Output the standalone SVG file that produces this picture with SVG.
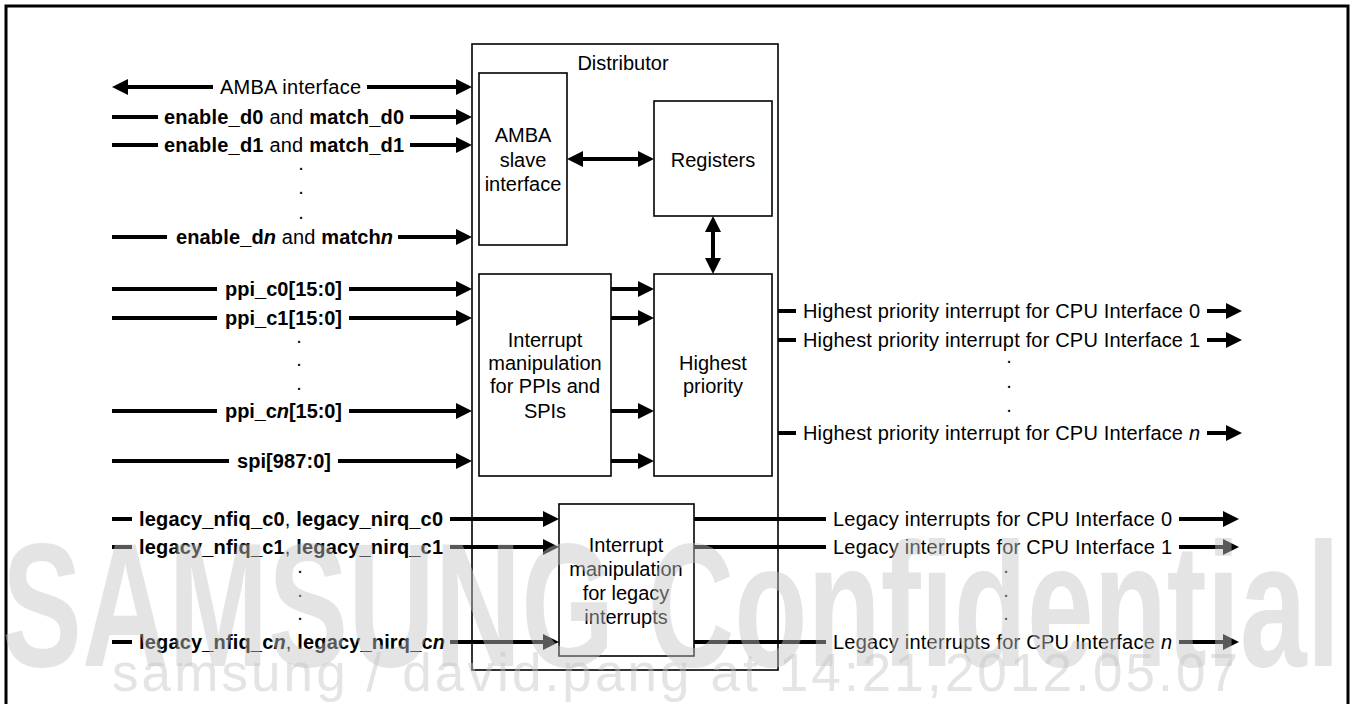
<svg xmlns="http://www.w3.org/2000/svg" width="1353" height="704" viewBox="0 0 1353 704">
<style>
.t{font-family:"Liberation Sans",Arial,sans-serif;font-size:20px;fill:#000}
.m{text-anchor:middle}
.b{font-weight:bold}
.i{font-style:italic}
.box{fill:#fff;stroke:#000;stroke-width:1.6}
.w{stroke:#000;stroke-width:4;fill:none}
.wm{font-family:"Liberation Sans",Arial,sans-serif;fill:#c4c4c4;opacity:0.45}
</style>
<defs>
<marker id="ah" viewBox="0 0 16 16" markerWidth="16" markerHeight="16" refX="6" refY="8" orient="auto-start-reverse" markerUnits="userSpaceOnUse"><path d="M0,0 L16,8 L0,16 Z" fill="#000"/></marker>
</defs>
<rect x="0" y="0" width="1353" height="704" fill="#fff"/>
<rect x="6" y="6" width="1342" height="720" fill="none" stroke="#000" stroke-width="3"/>

<g id="distributor">
<rect class="box" x="472" y="44" width="306" height="626"/>
<text class="t m" x="623" y="70">Distributor</text>
</g>
<g id="amba_slave">
<rect class="box" x="479" y="73" width="88" height="172"/>
<text class="t m" x="523" y="142">AMBA</text>
<text class="t m" x="523" y="167">slave</text>
<text class="t m" x="523" y="191">interface</text>
</g>
<g id="registers">
<rect class="box" x="654" y="101" width="118" height="115"/>
<text class="t m" x="713" y="167">Registers</text>
</g>
<g id="ppi_spi">
<rect class="box" x="479" y="274" width="132" height="202"/>
<text class="t m" x="545" y="347">Interrupt</text>
<text class="t m" x="545" y="370">manipulation</text>
<text class="t m" x="545" y="393">for PPIs and</text>
<text class="t m" x="545" y="418">SPIs</text>
</g>
<g id="highest">
<rect class="box" x="654" y="274" width="118" height="202"/>
<text class="t m" x="713" y="370">Highest</text>
<text class="t m" x="713" y="393">priority</text>
</g>
<g id="legacy">
<rect class="box" x="559" y="504" width="135" height="152"/>
<text class="t m" x="626" y="552">Interrupt</text>
<text class="t m" x="626" y="576">manipulation</text>
<text class="t m" x="626" y="600">for legacy</text>
<text class="t m" x="626" y="624">interrupts</text>
</g>

<g id="connectors">
<line class="w" x1="122" y1="87" x2="213" y2="87" marker-start="url(#ah)"/>
<line class="w" x1="367" y1="87" x2="462" y2="87" marker-end="url(#ah)"/>
<line class="w" x1="112" y1="117" x2="158" y2="117"/>
<line class="w" x1="410" y1="117" x2="462" y2="117" marker-end="url(#ah)"/>
<line class="w" x1="112" y1="145" x2="158" y2="145"/>
<line class="w" x1="410" y1="145" x2="462" y2="145" marker-end="url(#ah)"/>
<line class="w" x1="112" y1="237" x2="167" y2="237"/>
<line class="w" x1="398" y1="237" x2="462" y2="237" marker-end="url(#ah)"/>
<line class="w" x1="112" y1="289" x2="217" y2="289"/>
<line class="w" x1="349" y1="289" x2="462" y2="289" marker-end="url(#ah)"/>
<line class="w" x1="112" y1="318" x2="217" y2="318"/>
<line class="w" x1="349" y1="318" x2="462" y2="318" marker-end="url(#ah)"/>
<line class="w" x1="112" y1="411" x2="217" y2="411"/>
<line class="w" x1="349" y1="411" x2="462" y2="411" marker-end="url(#ah)"/>
<line class="w" x1="112" y1="461" x2="229" y2="461"/>
<line class="w" x1="338" y1="461" x2="462" y2="461" marker-end="url(#ah)"/>
<line class="w" x1="112" y1="519" x2="132" y2="519"/>
<line class="w" x1="450" y1="519" x2="549" y2="519" marker-end="url(#ah)"/>
<line class="w" x1="112" y1="547" x2="132" y2="547"/>
<line class="w" x1="450" y1="547" x2="549" y2="547" marker-end="url(#ah)"/>
<line class="w" x1="112" y1="642" x2="132" y2="642"/>
<line class="w" x1="450" y1="642" x2="549" y2="642" marker-end="url(#ah)"/>
<line class="w" x1="577" y1="159" x2="644" y2="159" marker-start="url(#ah)" marker-end="url(#ah)"/>
<line class="w" x1="713" y1="226" x2="713" y2="264" marker-start="url(#ah)" marker-end="url(#ah)"/>
<line class="w" x1="611" y1="289" x2="644" y2="289" marker-end="url(#ah)"/>
<line class="w" x1="611" y1="318" x2="644" y2="318" marker-end="url(#ah)"/>
<line class="w" x1="611" y1="411" x2="644" y2="411" marker-end="url(#ah)"/>
<line class="w" x1="611" y1="461" x2="644" y2="461" marker-end="url(#ah)"/>
<line class="w" x1="778" y1="311" x2="796" y2="311"/>
<line class="w" x1="1207" y1="311" x2="1232" y2="311" marker-end="url(#ah)"/>
<line class="w" x1="778" y1="340" x2="796" y2="340"/>
<line class="w" x1="1207" y1="340" x2="1232" y2="340" marker-end="url(#ah)"/>
<line class="w" x1="778" y1="433" x2="796" y2="433"/>
<line class="w" x1="1207" y1="433" x2="1232" y2="433" marker-end="url(#ah)"/>
<line class="w" x1="694" y1="519" x2="826" y2="519"/>
<line class="w" x1="1179" y1="519" x2="1229" y2="519" marker-end="url(#ah)"/>
<line class="w" x1="694" y1="547" x2="826" y2="547"/>
<line class="w" x1="1179" y1="547" x2="1229" y2="547" marker-end="url(#ah)"/>
<line class="w" x1="694" y1="642" x2="826" y2="642"/>
<line class="w" x1="1179" y1="642" x2="1229" y2="642" marker-end="url(#ah)"/>
</g>

<g id="labels">
<text class="t" x="220" y="94" textLength="141" lengthAdjust="spacing">AMBA interface</text>
<text class="t" x="164" y="124" textLength="240" lengthAdjust="spacing"><tspan class="b">enable_d0</tspan> and <tspan class="b">match_d0</tspan></text>
<text class="t" x="164" y="152" textLength="240" lengthAdjust="spacing"><tspan class="b">enable_d1</tspan> and <tspan class="b">match_d1</tspan></text>
<text class="t m" x="301" y="170">.</text>
<text class="t m" x="301" y="194">.</text>
<text class="t m" x="301" y="219">.</text>
<text class="t" x="176" y="244" textLength="217" lengthAdjust="spacing"><tspan class="b">enable_d</tspan><tspan class="b i">n</tspan> and <tspan class="b">match</tspan><tspan class="b i">n</tspan></text>
<text class="t b" x="225" y="296" textLength="117" lengthAdjust="spacing">ppi_c0[15:0]</text>
<text class="t b" x="225" y="325" textLength="117" lengthAdjust="spacing">ppi_c1[15:0]</text>
<text class="t m" x="299" y="343">.</text>
<text class="t m" x="299" y="366">.</text>
<text class="t m" x="299" y="390">.</text>
<text class="t b" x="225" y="418" textLength="117" lengthAdjust="spacing">ppi_c<tspan class="i">n</tspan>[15:0]</text>
<text class="t b" x="237" y="468" textLength="94" lengthAdjust="spacing">spi[987:0]</text>
<text class="t" x="139" y="526" textLength="304" lengthAdjust="spacing"><tspan class="b">legacy_nfiq_c0</tspan>, <tspan class="b">legacy_nirq_c0</tspan></text>
<text class="t" x="139" y="554" textLength="304" lengthAdjust="spacing"><tspan class="b">legacy_nfiq_c1</tspan>, <tspan class="b">legacy_nirq_c1</tspan></text>
<text class="t m" x="300" y="573">.</text>
<text class="t m" x="300" y="597">.</text>
<text class="t m" x="300" y="620">.</text>
<text class="t" x="139" y="649" textLength="306" lengthAdjust="spacing"><tspan class="b">legacy_nfiq_c</tspan><tspan class="b i">n</tspan>, <tspan class="b">legacy_nirq_c</tspan><tspan class="b i">n</tspan></text>
<text class="t" x="803" y="318" textLength="397" lengthAdjust="spacing">Highest priority interrupt for CPU Interface 0</text>
<text class="t" x="803" y="347" textLength="397" lengthAdjust="spacing">Highest priority interrupt for CPU Interface 1</text>
<text class="t m" x="1009" y="363">.</text>
<text class="t m" x="1009" y="388">.</text>
<text class="t m" x="1009" y="412">.</text>
<text class="t" x="803" y="440" textLength="397" lengthAdjust="spacing">Highest priority interrupt for CPU Interface <tspan class="i">n</tspan></text>
<text class="t" x="833" y="526" textLength="339" lengthAdjust="spacing">Legacy interrupts for CPU Interface 0</text>
<text class="t" x="833" y="554" textLength="339" lengthAdjust="spacing">Legacy interrupts for CPU Interface 1</text>
<text class="t m" x="1006" y="573">.</text>
<text class="t m" x="1006" y="597">.</text>
<text class="t m" x="1006" y="620">.</text>
<text class="t" x="833" y="649" textLength="339" lengthAdjust="spacing">Legacy interrupts for CPU Interface <tspan class="i">n</tspan></text>
</g>

<g id="watermark">
<text class="wm" x="2" y="666" font-size="176" font-weight="bold" textLength="1338" lengthAdjust="spacingAndGlyphs">SAMSUNG Confidential</text>
<text class="wm" x="112" y="691" font-size="53" textLength="1126" lengthAdjust="spacing">samsung / david.pang at 14:21,2012.05.07</text>
</g>
</svg>
